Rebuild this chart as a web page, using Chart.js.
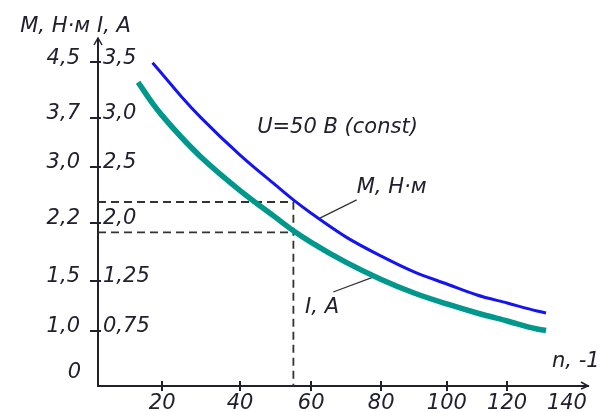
<!DOCTYPE html>
<html lang="ru">
<head>
  <meta charset="UTF-8">
  <title>M(n), I(n) при U=50 В</title>
  <script src="https://cdn.jsdelivr.net/npm/chart.js"></script>
  <style>
    body { margin: 0; background: #fff; }
    canvas { display: block; }
  </style>
</head>
<body>
  <canvas id="motorChart" width="603" height="412"></canvas>

  <script>
    // частота вращения n
    const speed = [12.5, 17, 20, 25, 30, 40, 50, 55, 60, 70, 80, 90, 100, 110, 120, 130, 133];
    // момент M, Н·м
    const torque = [null, 4.49, 4.33, 4.0, 3.7, 3.17, 2.74, 2.53, 2.34, 2.03, 1.8, 1.61, 1.47, 1.36, 1.28, 1.2, 1.18];
    // ток I, А
    const current = [3.32, 3.13, 3.02, 2.8, 2.6, 2.29, 2.05, 1.9, 1.75, 1.49, 1.27, 1.13, 1.02, 0.93, 0.85, 0.77, 0.755];

    // рабочая точка (пунктир)
    const workSpeed = 55;
    const workTorque = 2.5;
    const workCurrent = 1.88;

    // выноски к подписям кривых
    const torqueLeader = [[62.5, 2.27], [73, 2.53]];
    const currentLeader = [[66.3, 1.14], [77.7, 1.30]];

    const speedTicks = [20, 40, 60, 80, 100, 120, 140];
    const torqueTicks = [1.0, 1.5, 2.2, 3.0, 3.7, 4.5];
    const torqueLabels = ['1,0', '1,5', '2,2', '3,0', '3,7', '4,5'];
    const currentTicks = [0.75, 1.25, 2.0, 2.5, 3.0, 3.5];
    const currentLabels = ['0,75', '1,25', '2,0', '2,5', '3,0', '3,5'];

    // оси на рисунке размечены от руки, шаг неравномерный:
    // значение -> доля длины оси
    const axisStops = {
      x:  { values: [0, 20, 40, 60, 80, 100, 120, 140], at: [0, .131, .290, .435, .578, .712, .835, .957] },
      yM: { values: [0, 1.0, 1.5, 2.2, 3.0, 3.7, 4.5], at: [0, .159, .3035, .471, .633, .775, .936] },
      yI: { values: [0, 0.75, 1.25, 2.0, 2.5, 3.0, 3.5], at: [0, .159, .3035, .471, .633, .775, .936] }
    };

    const ink = '#20202e';
    const font = 'DejaVu Sans';

    function lerpStops(v, from, to) {
      let i = 1;
      while (i < from.length - 1 && v > from[i]) i++;
      const t = (v - from[i - 1]) / (from[i] - from[i - 1]);
      return to[i - 1] + t * (to[i] - to[i - 1]);
    }

    class StopsScale extends Chart.LinearScale {
      static id = 'stops';
      getPixelForValue(value) {
        const s = axisStops[this.id];
        return this.getPixelForDecimal(lerpStops(value, s.values, s.at));
      }
      getValueForPixel(pixel) {
        const s = axisStops[this.id];
        return lerpStops(this.getDecimalForPixel(pixel), s.at, s.values);
      }
    }
    Chart.register(StopsScale);

    const points = (ys) => speed.map((n, i) => ({ x: n, y: ys[i] })).filter(p => p.y !== null);
    const pairs = (arr) => arr.map(p => ({ x: p[0], y: p[1] }));

    const notes = {
      id: 'notes',
      afterDraw(chart) {
        const { ctx, chartArea: a, scales: { x, yM, yI } } = chart;
        ctx.save();
        ctx.font = `italic 21px "${font}"`;
        ctx.fillStyle = ink;
        ctx.textBaseline = 'middle';
        const put = (t, px, py, align = 'left') => { ctx.textAlign = align; ctx.fillText(t, px, py); };
        put('U=50 В (const)', x.getPixelForValue(44.8), yM.getPixelForValue(3.56));
        put('М, Н·м', x.getPixelForValue(73), yM.getPixelForValue(2.7));
        put('I, А', x.getPixelForValue(58.3), yI.getPixelForValue(0.98));
        put('n, -1', x.getPixelForValue(135), yM.getPixelForValue(0.44));
        put('0', a.left - 17, a.bottom - 13, 'right');
        put('М, Н·м', a.left - 8, a.top - 13, 'right');
        put('I, А', a.left - 1, a.top - 13);

        ctx.strokeStyle = ink;
        ctx.lineWidth = 2;
        ctx.beginPath();
        // насечки заходят внутрь поля
        speedTicks.slice(0, -1).forEach(v => {
          const px = Math.round(x.getPixelForValue(v));
          ctx.moveTo(px, a.bottom);
          ctx.lineTo(px, a.bottom - 5);
        });
        torqueTicks.forEach(v => {
          const py = Math.round(yM.getPixelForValue(v));
          ctx.moveTo(a.left, py);
          ctx.lineTo(a.left + 3, py);
        });
        ctx.stroke();

        // стрелки осей
        ctx.lineWidth = 1.5;
        ctx.beginPath();
        ctx.moveTo(a.left - 4, a.top + 5);
        ctx.lineTo(a.left, a.top - 2);
        ctx.lineTo(a.left + 4, a.top + 5);
        ctx.moveTo(a.right - 7, a.bottom - 4);
        ctx.lineTo(a.right, a.bottom);
        ctx.lineTo(a.right - 7, a.bottom + 3);
        ctx.stroke();
        ctx.restore();
      }
    };

    const dashed = { borderColor: '#333', borderWidth: 1.8, borderDash: [8, 5], pointRadius: 0, fill: false };
    const leader = { borderColor: '#333', borderWidth: 1.3, pointRadius: 0, fill: false };

    const ctx = document.getElementById('motorChart').getContext('2d');
    new Chart(ctx, {
      type: 'line',
      data: {
        datasets: [
          {
            label: 'M, Н·м',
            data: points(torque),
            yAxisID: 'yM',
            borderColor: '#1414f0',
            borderWidth: 3,
            pointRadius: 0,
            cubicInterpolationMode: 'monotone'
          },
          {
            label: 'I, А',
            data: points(current),
            yAxisID: 'yI',
            borderColor: '#00978c',
            borderWidth: 5.5,
            pointRadius: 0,
            cubicInterpolationMode: 'monotone'
          },
          { ...dashed, data: [{ x: 0, y: workTorque }, { x: workSpeed, y: workTorque }, { x: workSpeed, y: 0 }], yAxisID: 'yM' },
          { ...dashed, data: [{ x: 0, y: workCurrent }, { x: workSpeed, y: workCurrent }], yAxisID: 'yI' },
          { ...leader, data: pairs(torqueLeader), yAxisID: 'yM' },
          { ...leader, data: pairs(currentLeader), yAxisID: 'yI' }
        ]
      },
      options: {
        responsive: false,
        animation: false,
        layout: { padding: { top: 40, right: 15, bottom: 0, left: 0 } },
        plugins: { legend: { display: false }, tooltip: { enabled: false } },
        scales: {
          x: {
            type: 'stops',
            min: 0,
            max: 147,
            afterBuildTicks: s => { s.ticks = speedTicks.map(v => ({ value: v })); },
            afterFit: s => { s.height = 26; },
            border: { color: ink, width: 2 },
            grid: {
              drawOnChartArea: false,
              tickLength: 5,
              lineWidth: 2,
              tickColor: c => (c.tick && c.tick.value === 140 ? 'rgba(0,0,0,0)' : ink)
            },
            ticks: {
              autoSkip: false,
              maxRotation: 0,
              padding: 0,
              color: ink,
              font: { family: font, size: 21, style: 'italic' },
              callback: v => String(v)
            }
          },
          yM: {
            type: 'stops',
            position: 'left',
            weight: 1,
            min: 0,
            max: 4.85,
            afterBuildTicks: s => { s.ticks = torqueTicks.map(v => ({ value: v })); },
            afterFit: s => { s.width = 98; },
            border: { color: ink, width: 2 },
            grid: { drawOnChartArea: false, tickLength: 8, lineWidth: 2, color: ink },
            ticks: {
              autoSkip: false,
              padding: 10,
              labelOffset: -4,
              color: ink,
              font: { family: font, size: 21, style: 'italic' },
              callback: (v, i) => torqueLabels[i]
            }
          },
          yI: {
            type: 'stops',
            position: 'left',
            weight: 0,
            min: 0,
            max: 3.7,
            afterBuildTicks: s => { s.ticks = currentTicks.map(v => ({ value: v })); },
            afterFit: s => { s.width = 0; },
            border: { display: false },
            grid: { display: false },
            ticks: {
              autoSkip: false,
              mirror: true,
              padding: 5,
              labelOffset: -4,
              color: ink,
              font: { family: font, size: 21, style: 'italic' },
              callback: (v, i) => currentLabels[i]
            }
          }
        }
      },
      plugins: [notes]
    });
  </script>
</body>
</html>
